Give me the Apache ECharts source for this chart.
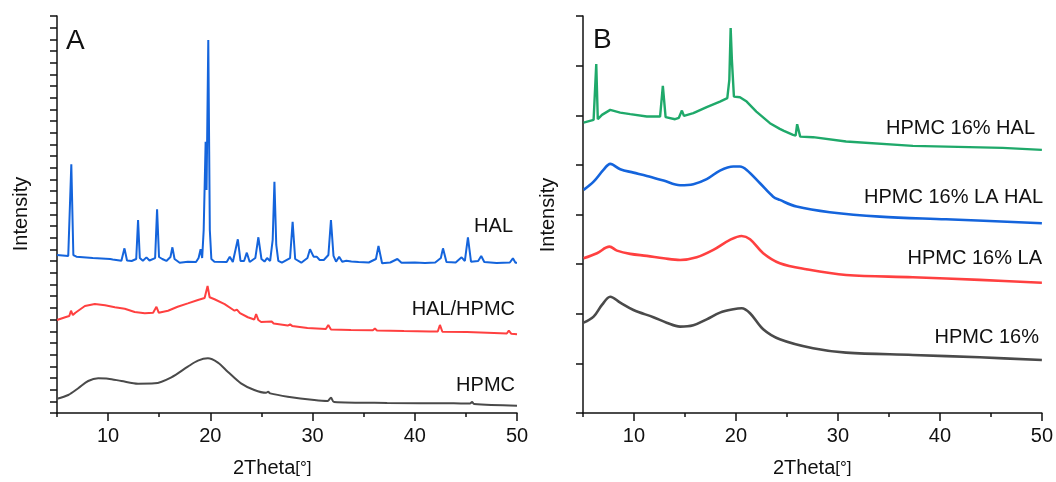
<!DOCTYPE html>
<html>
<head>
<meta charset="utf-8">
<script src="https://cdn.jsdelivr.net/npm/echarts@6/dist/echarts.min.js"></script>
<style>
  html, body { margin: 0; padding: 0; background: #fff; }
  #chart { width: 1056px; height: 482px; }
</style>
</head>
<body>
<div id="chart"></div>
<script>
// X-ray diffraction patterns, intensity in arbitrary units (curves offset vertically)
var xTicksMajor = [10, 20, 30, 40, 50];
var xTicksMinor = [5, 15, 25, 35, 45];

// Panel A
var halTheta = [5.0,6.1,6.2,6.4,6.6,6.9,8.5,10.2,10.3,10.45,11.3,11.6,11.85,12.3,12.75,12.93,13.1,13.4,13.75,14.05,14.6,14.79,14.98,15.3,15.7,16.1,16.29,16.5,17.0,17.8,18.6,18.85,19.05,19.2,19.35,19.54,19.63,19.8,19.95,20.1,20.4,21.6,21.9,22.2,22.69,22.95,23.3,23.57,23.85,24.4,24.7,25.0,25.3,25.55,25.85,26.1,26.27,26.45,26.65,27.0,27.8,28.05,28.3,28.9,29.5,29.75,30.1,30.4,30.7,31.1,31.55,31.8,32.05,32.3,32.6,32.9,33.3,33.8,34.5,35.5,36.2,36.45,36.8,37.6,38.3,38.7,40.0,41.0,42.0,42.55,42.76,43.1,44.0,44.58,44.9,45.2,45.5,46.2,46.5,46.8,48.0,49.3,49.6,49.85,50.0];
var halIntensity = [135.3,134.5,136.2,213.0,135.3,133.9,132.7,131.9,133.6,131.5,130.4,141.0,130.6,130.2,131.9,165.3,132.7,130.4,133.3,130.6,132.7,174.4,133.6,131.9,130.2,133.6,141.9,131.9,128.7,129.6,129.3,132.7,140.2,132.7,156.7,232.3,191.0,319.4,156.7,131.9,129.6,129.3,133.9,129.3,148.8,130.2,130.2,137.3,129.3,132.7,150.5,131.9,129.7,132.7,130.2,148.2,198.1,143.9,130.2,128.7,132.7,163.8,131.9,128.7,132.7,140.2,133.9,133.9,131.0,131.0,135.3,165.3,134.5,129.6,133.9,129.6,130.4,129.7,129.3,128.9,131.9,143.0,128.2,128.9,131.9,128.7,128.9,128.5,128.9,132.7,141.0,129.3,128.9,133.3,130.2,150.5,129.6,130.2,134.5,129.3,128.5,128.9,132.5,128.7,128.7];

var halHpmcTheta = [5.0,5.8,6.2,6.37,6.55,6.8,7.73,8.7,9.7,10.66,11.63,11.8,12.6,13.59,14.4,14.73,14.95,15.86,16.8,17.8,18.79,19.44,19.73,19.93,20.41,21.4,22.37,22.6,22.9,23.67,24.3,24.48,24.7,24.97,26.0,26.2,27.57,27.8,28.0,29.5,31.3,31.54,31.8,33.75,35.9,36.1,36.3,38.95,41.5,42.25,42.46,42.7,45.1,48.4,49.0,49.2,49.45,50.0];
var halHpmcIntensity = [79.6,82.0,83.1,87.6,83.9,85.9,91.6,93.3,92.2,90.5,89.3,88.2,86.5,85.4,85.9,91.0,85.9,87.6,91.0,93.9,96.8,98.5,108.8,99.1,97.4,93.3,87.6,88.6,85.6,82.0,80.1,84.8,79.6,77.9,78.4,76.6,74.9,76.0,74.6,72.8,71.9,75.4,71.5,71.1,70.9,72.4,70.7,70.2,69.8,69.8,75.4,69.6,69.4,68.3,68.1,70.5,67.8,67.4];

var hpmcTheta = [5.0,6.1,7.08,8.05,9.03,10.0,11.3,12.93,14.56,16.19,17.8,18.79,19.76,20.74,21.7,23.0,24.3,25.45,25.65,25.85,27.57,30.17,31.47,31.8,32.1,37.3,43.8,45.4,45.6,45.8,50.0];
var hpmcIntensity = [12.2,15.4,21.2,27.4,29.7,29.4,27.4,25.1,25.4,30.6,39.7,44.8,46.8,43.1,35.4,25.4,19.7,17.3,18.2,16.8,14.0,11.1,10.3,13.1,9.4,8.6,8.3,8.1,9.4,7.7,6.3];

// Panel B
var h16HalTheta = [5.06,6.04,6.2,6.3,6.45,6.86,7.67,8.65,9.63,11.26,12.56,12.83,13.1,14.03,14.4,14.7,14.9,15.82,17.13,18.43,19.15,19.35,19.48,19.6,19.8,20.39,21.05,22.0,23.33,24.3,24.47,24.7,25.6,25.85,26.0,26.3,27.56,30.8,37.35,46.15,50.0];
var h16HalIntensity = [292.6,295.3,295.8,351.5,296.0,300.4,305.4,302.7,301.1,298.7,298.7,329.6,298.1,296.0,297.4,304.7,299.4,302.1,308.1,313.8,317.2,335.7,387.8,355.8,318.8,318.2,313.8,303.7,292.0,286.3,288.0,284.3,280.2,279.5,291.0,278.5,277.9,273.5,269.1,267.1,265.1];

var h16LaHalTheta = [5.06,6.04,7.0,7.67,8.65,9.95,11.26,12.9,14.52,15.82,17.13,18.43,19.74,20.39,21.05,22.36,23.65,24.3,25.94,29.2,34.1,40.6,50.0];
var h16LaHalIntensity = [224.8,233.1,244.9,251.0,245.6,242.2,238.9,234.2,229.5,230.5,235.6,244.2,248.3,248.3,244.9,231.5,218.0,214.7,208.0,202.3,197.9,195.2,191.2];

var h16LaTheta = [5.06,6.37,7.6,8.33,9.63,11.26,12.9,14.52,16.15,17.78,19.41,20.56,21.38,22.67,24.3,26.9,30.8,37.35,43.9,50.0];
var h16LaIntensity = [155.9,161.0,167.6,163.6,160.3,158.3,155.9,154.2,156.9,164.3,174.4,178.4,175.1,161.0,150.9,144.8,139.1,136.8,134.1,131.3];

var h16Theta = [5.06,6.04,6.86,7.67,8.65,9.95,11.9,13.2,14.52,15.82,17.13,18.43,19.74,20.56,21.38,22.67,24.3,27.56,30.8,37.35,43.9,50.0];
var h16Intensity = [91.0,97.1,108.9,117.2,111.2,103.8,96.5,91.0,87.0,88.4,94.4,101.1,104.5,105.5,100.5,84.4,74.3,65.2,60.8,58.5,56.1,53.4];

function pairs(xs, ys) {
  return xs.map(function (x, i) { return [x, ys[i]]; });
}

var FONT = '"Liberation Sans", Arial, sans-serif';
var INK = '#111';

function xAxisMain(grid) {
  return {
    type: 'value', gridIndex: grid, min: 5, max: 50, position: 'bottom',
    axisLine: { show: true, onZero: false, lineStyle: { color: INK, width: 1.5 } },
    axisTick: { show: true, length: 8, customValues: xTicksMajor, lineStyle: { color: INK, width: 1.5 } },
    axisLabel: { show: true, customValues: xTicksMajor, margin: 13, color: INK, fontSize: 20, fontFamily: FONT },
    splitLine: { show: false }
  };
}
function xAxisMinor(grid) {
  return {
    type: 'value', gridIndex: grid, min: 5, max: 50, position: 'bottom',
    axisLine: { show: false, onZero: false },
    axisTick: { show: true, length: 4, customValues: xTicksMinor, lineStyle: { color: INK, width: 1.5 } },
    axisLabel: { show: false },
    splitLine: { show: false }
  };
}
function yAxis(grid, max, interval) {
  return {
    type: 'value', gridIndex: grid, min: 0, max: max, interval: interval,
    axisLine: { show: true, onZero: false, lineStyle: { color: INK, width: 1.5 } },
    axisTick: { show: true, length: 7, lineStyle: { color: INK, width: 1.5 } },
    axisLabel: { show: false },
    splitLine: { show: false }
  };
}
function line(name, xIdx, yIdx, xs, ys, color, width, smooth) {
  return {
    name: name, type: 'line', xAxisIndex: xIdx, yAxisIndex: yIdx,
    data: pairs(xs, ys), showSymbol: false, smooth: smooth,
    lineStyle: { color: color, width: width }, itemStyle: { color: color },
    animation: false
  };
}
function txt(x, y, text, align, size, rot) {
  return {
    type: 'text', x: x, y: y, rotation: rot || 0,
    style: { text: text, fill: INK, font: size + 'px ' + FONT, align: align, verticalAlign: 'middle' }
  };
}
function axisTitle(x, y) {
  return {
    type: 'text', x: x, y: y,
    style: {
      text: '{a|2Theta}{b|[°]}', align: 'left', verticalAlign: 'middle',
      rich: {
        a: { fontSize: 20, fontFamily: FONT, fill: INK },
        b: { fontSize: 17, fontFamily: FONT, fill: INK }
      }
    }
  };
}

var BLUE = '#1464dc', RED = '#ff4040', GRAY = '#4a4a4a', GREEN = '#1fa96a';

var chart = echarts.init(document.getElementById('chart'), null, { renderer: 'canvas' });
chart.setOption({
  animation: false,
  backgroundColor: '#fff',
  grid: [
    { left: 57, top: 16, width: 460, height: 397 },
    { left: 583, top: 16, width: 460, height: 397 }
  ],
  xAxis: [xAxisMain(0), xAxisMinor(0), xAxisMain(1), xAxisMinor(1)],
  yAxis: [yAxis(0, 340, 10), yAxis(1, 400, 50)],
  series: [
    line('HAL', 0, 0, halTheta, halIntensity, BLUE, 2, false),
    line('HAL/HPMC', 0, 0, halHpmcTheta, halHpmcIntensity, RED, 2, false),
    line('HPMC', 0, 0, hpmcTheta, hpmcIntensity, GRAY, 2, 0.3),
    line('HPMC 16% HAL', 2, 1, h16HalTheta, h16HalIntensity, GREEN, 2.4, false),
    line('HPMC 16% LA HAL', 2, 1, h16LaHalTheta, h16LaHalIntensity, BLUE, 2.6, 0.35),
    line('HPMC 16% LA', 2, 1, h16LaTheta, h16LaIntensity, RED, 2.6, 0.35),
    line('HPMC 16%', 2, 1, h16Theta, h16Intensity, GRAY, 2.6, 0.35)
  ],
  graphic: [
    txt(66, 41, 'A', 'left', 28),
    txt(593, 40, 'B', 'left', 28),
    txt(21, 214, 'Intensity', 'center', 20, Math.PI / 2),
    txt(548, 215, 'Intensity', 'center', 20, Math.PI / 2),
    axisTitle(233, 468),
    axisTitle(773, 468),
    txt(513, 226, 'HAL', 'right', 20),
    txt(515, 309, 'HAL/HPMC', 'right', 20),
    txt(515, 385, 'HPMC', 'right', 20),
    txt(1035, 128, 'HPMC 16% HAL', 'right', 20),
    txt(1043, 197, 'HPMC 16% LA HAL', 'right', 20),
    txt(1042, 258, 'HPMC 16% LA', 'right', 20),
    txt(1039, 337, 'HPMC 16%', 'right', 20)
  ]
});
</script>
</body>
</html>
